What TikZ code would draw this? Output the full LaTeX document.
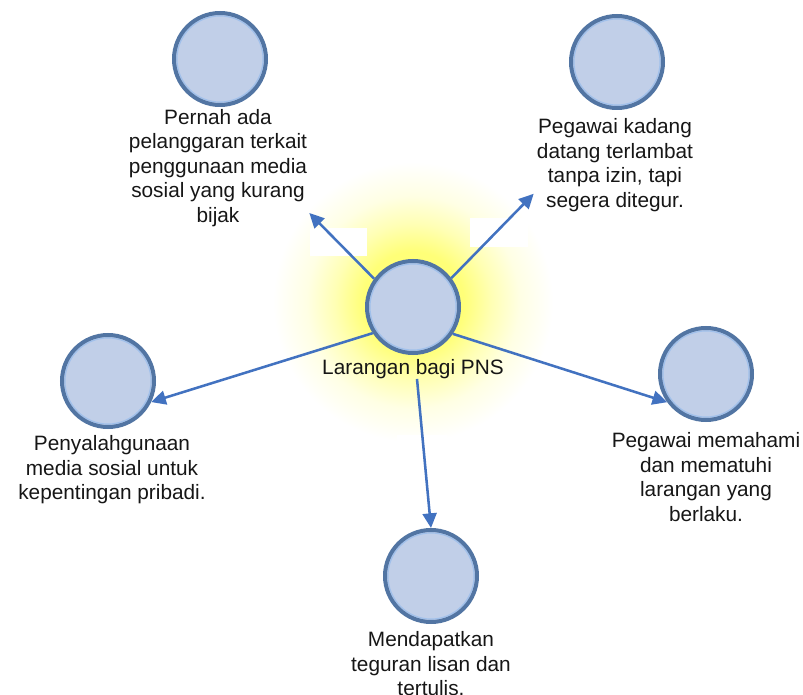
\documentclass[tikz,border=0pt]{standalone}
\usepackage{fontspec}
\setmainfont{Liberation Sans}
\usetikzlibrary{arrows.meta,calc}

\definecolor{bubblefill}{RGB}{193,207,232}
\definecolor{bubbleedge}{RGB}{82,117,163}
\definecolor{bubblering}{RGB}{160,192,235}
\definecolor{linkblue}{RGB}{66,114,192}
\definecolor{glowyellow}{RGB}{255,255,120}
\definecolor{captiongray}{RGB}{22,22,22}

% soft halo behind the central topic
\pgfdeclareradialshading{halo}{\pgfpoint{0bp}{0bp}}{%
  color(0bp)=(glowyellow);
  color(9bp)=(glowyellow);
  color(14bp)=(glowyellow!55!white);
  color(19bp)=(glowyellow!20!white);
  color(25bp)=(white);
  color(50bp)=(white)}

\tikzset{
  bubble/.style={circle, minimum size=69pt, inner sep=0pt,
    fill=bubblefill, draw=bubbleedge, line width=3pt,
    path picture={\draw[bubblering, line width=0.9pt]
      (path picture bounding box.center) circle (32.3pt);}},
  caption/.style={align=center, inner sep=0pt, text=captiongray,
    font=\fontsize{15.6}{18.4}\selectfont},
  link/.style={draw=linkblue, line width=1.9pt,
    -{Triangle[length=11pt,width=10.5pt]}},
  blank/.style={fill=white}
}

\begin{document}
\begin{tikzpicture}[x=0.75pt,y=-0.75pt]
  \useasboundingbox (0,0) rectangle (803,695);

  % halo
  \shade[shading=halo] (413,302) circle (140);

  % empty label boxes on the links
  \fill[blank] (310,228) rectangle (367,256);
  \fill[blank] (470,218) rectangle (528,247);
  \fill[blank] (397,435) rectangle (447,463);

  % central topic
  \node[bubble] (c) at (413,307) {};
  \node[caption] (lbl) at (413,369) {Larangan bagi PNS};

  % outcomes
  \node[bubble] (tlc) at (220,59) {};
  \node[caption] (tlt) at (218,168)
    {Pernah ada\\pelanggaran terkait\\penggunaan media\\sosial yang kurang\\bijak};

  \node[bubble] (trc) at (617,62) {};
  \node[caption] (trt) at (615,165)
    {Pegawai kadang\\datang terlambat\\tanpa izin, tapi\\segera ditegur.};

  \node[bubble] (lc) at (108,381) {};
  \node[caption] (lt) at (112,470)
    {Penyalahgunaan\\media sosial untuk\\kepentingan pribadi.};

  \node[bubble] (rc) at (706,374) {};
  \node[caption] (rt) at (706,477)
    {Pegawai memahami\\dan mematuhi\\larangan yang\\berlaku.};

  \node[bubble] (bc) at (431,576) {};
  \node[caption] (bt) at (431,664)
    {Mendapatkan\\teguran lisan dan\\tertulis.};

  % links
  \draw[link] (c.144) -- ($(tlt.south east)+(2,-14)$);
  \draw[link] (c.37) -- ($(trt.south west)+(-3,-18)$);
  \draw[link] (c.213) -- (lc.-26);
  \draw[link] (c.-34) -- (rc.216);
  \draw[link] ($(lbl.south)+(4,0)$) -- (bc.north);
\end{tikzpicture}
\end{document}
